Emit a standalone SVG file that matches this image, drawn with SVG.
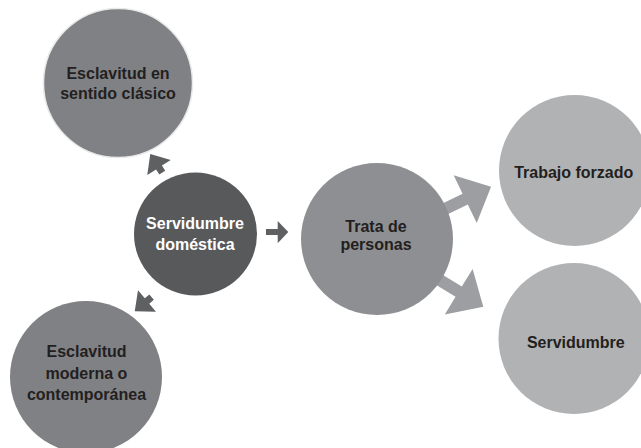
<svg xmlns="http://www.w3.org/2000/svg" width="641" height="448" viewBox="0 0 641 448">
  <style>
    .t { font-family: "Liberation Sans", Arial, Helvetica, sans-serif; font-weight: bold; font-size: 16px; text-anchor: middle; fill: #231f20; }
    .w { fill: #ffffff; }
    .sa { fill: #5f6062; }
    .ba { fill: #9d9ea1; }
  </style>
  <rect width="641" height="448" fill="#ffffff"/>
  <g id="connectors">
    <!-- small arrows from Servidumbre doméstica -->
    <polygon class="sa" transform="translate(159,167.5) rotate(-123)" points="-6,-3.5 0,-3.5 0,-14 16,0 0,14 0,3.5 -6,3.5"/>
    <polygon class="sa" transform="translate(147,301) rotate(140)" points="-6,-3.5 0,-3.5 0,-14 16,0 0,14 0,3.5 -6,3.5"/>
    <polygon class="sa" points="266,229 277.7,229 277.7,221 288.3,232 277.7,243.3 277.7,235 266,235"/>
    <!-- big arrows from Trata de personas -->
    <polygon class="ba" transform="translate(465.2,199.2) rotate(-25.8)" points="-40,-6 0,-6 0,-26.5 28.7,0 0,26.5 0,6 -40,6"/>
    <polygon class="ba" transform="translate(458.7,291.7) rotate(31.4)" points="-40,-6 0,-6 0,-26.7 28.8,0 0,26.7 0,6 -40,6"/>
  </g>
  <g id="node-clasico">
    <circle cx="118" cy="83" r="74.5" fill="#808184" stroke="#e9e9ea" stroke-width="1.5"/>
    <text class="t" x="118" y="78.7">Esclavitud en</text>
    <text class="t" x="118" y="99">sentido clásico</text>
  </g>
  <g id="node-domestica">
    <circle cx="195.5" cy="234" r="61.5" fill="#58595b"/>
    <text class="t w" x="195" y="229.3">Servidumbre</text>
    <text class="t w" x="195" y="250">doméstica</text>
  </g>
  <g id="node-moderna">
    <circle cx="86" cy="377" r="76" fill="#808184"/>
    <text class="t" x="86.5" y="357">Esclavitud</text>
    <text class="t" x="86.5" y="378.5">moderna o</text>
    <text class="t" x="86.5" y="400">contemporánea</text>
  </g>
  <g id="node-trata">
    <circle cx="377" cy="239" r="76" fill="#8e8f92"/>
    <text class="t" x="376" y="231.7">Trata de</text>
    <text class="t" x="376" y="250">personas</text>
  </g>
  <g id="node-trabajo">
    <circle cx="574.5" cy="170.5" r="75.5" fill="#b1b2b4"/>
    <text class="t" x="573.7" y="177.7">Trabajo forzado</text>
  </g>
  <g id="node-servidumbre">
    <circle cx="574" cy="338.5" r="75.5" fill="#b1b2b4"/>
    <text class="t" x="575.8" y="348.3">Servidumbre</text>
  </g>
</svg>
